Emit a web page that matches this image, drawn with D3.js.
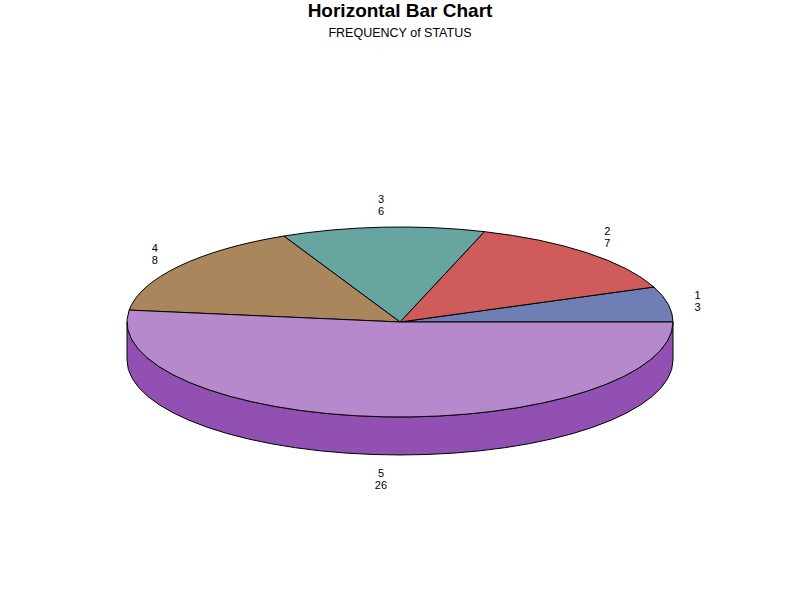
<!DOCTYPE html>
<html><head><meta charset="utf-8">
<script src="https://cdn.jsdelivr.net/npm/d3@7/dist/d3.min.js"></script>
<style>body{margin:0;background:#fff}svg{display:block}</style>
</head><body>
<svg id="c" width="800" height="600"></svg>
<script>
const categories = ["1","2","3","4","5"];
const values = [3,7,6,8,26];
const topColors = ["#6F7EB3","#D05B5B","#66A5A0","#A9865B","#B689CD"];
const sideColors = ["#4F5F98","#B03D3D","#468580","#896640","#9350B3"];
const title = "Horizontal Bar Chart";
const subtitle = "FREQUENCY of STATUS";

const W=800,H=600,cx=400,cy=322,rx=273,ry=95,depth=38;
const svg=d3.select("#c");
svg.append("rect").attr("width",W).attr("height",H).attr("fill","#fff");
svg.append("text").attr("x",400).attr("y",17).attr("text-anchor","middle")
  .attr("font-family","Liberation Sans, Arial, sans-serif").attr("font-weight","bold").attr("font-size",19).text(title);
svg.append("text").attr("x",400).attr("y",37).attr("text-anchor","middle")
  .attr("font-family","Liberation Sans, Arial, sans-serif").attr("font-size",12.5).text(subtitle);

const data=categories.map((c,i)=>({c,v:values[i],i}));
const pie=d3.pie().sort(null).value(d=>d.v).startAngle(0).endAngle(2*Math.PI);
const arcs=pie(data);
const px=a=>cx+rx*Math.cos(a), py=a=>cy-ry*Math.sin(a);

const g=svg.append("g");
// sides (front half only)
arcs.forEach(d=>{
  const a0=Math.max(d.startAngle,Math.PI), a1=Math.min(d.endAngle,2*Math.PI);
  if(a1<=a0) return;
  const large=(a1-a0)>Math.PI?1:0;
  const s=`M${px(a0)},${py(a0)} A${rx},${ry} 0 ${large} 0 ${px(a1)},${py(a1)} L${px(a1)},${py(a1)+depth} A${rx},${ry} 0 ${large} 1 ${px(a0)},${py(a0)+depth} Z`;
  g.append("path").attr("d",s).attr("fill",sideColors[d.data.i]).attr("stroke","#000").attr("stroke-width",1);
});
// tops
arcs.forEach(d=>{
  const a0=d.startAngle,a1=d.endAngle;
  const large=(a1-a0)>Math.PI?1:0;
  const s=`M${cx},${cy} L${px(a0)},${py(a0)} A${rx},${ry} 0 ${large} 0 ${px(a1)},${py(a1)} Z`;
  g.append("path").attr("d",s).attr("fill",topColors[d.data.i]).attr("stroke","#000").attr("stroke-width",1).attr("stroke-linejoin","round");
});
// labels
const lrx=303,lry=118;
arcs.forEach(d=>{
  const m=(d.startAngle+d.endAngle)/2;
  const x=cx+lrx*Math.cos(m);
  let y=cy-lry*Math.sin(m);
  if(Math.sin(m)<0) y+=depth;
  const t=svg.append("text").attr("text-anchor","middle")
    .attr("font-family","Liberation Sans, Arial, sans-serif").attr("font-size",11);
  t.append("tspan").attr("x",x).attr("y",y-1).text(d.data.c);
  t.append("tspan").attr("x",x).attr("y",y+11).text(d.data.v);
});
</script>
</body></html>
